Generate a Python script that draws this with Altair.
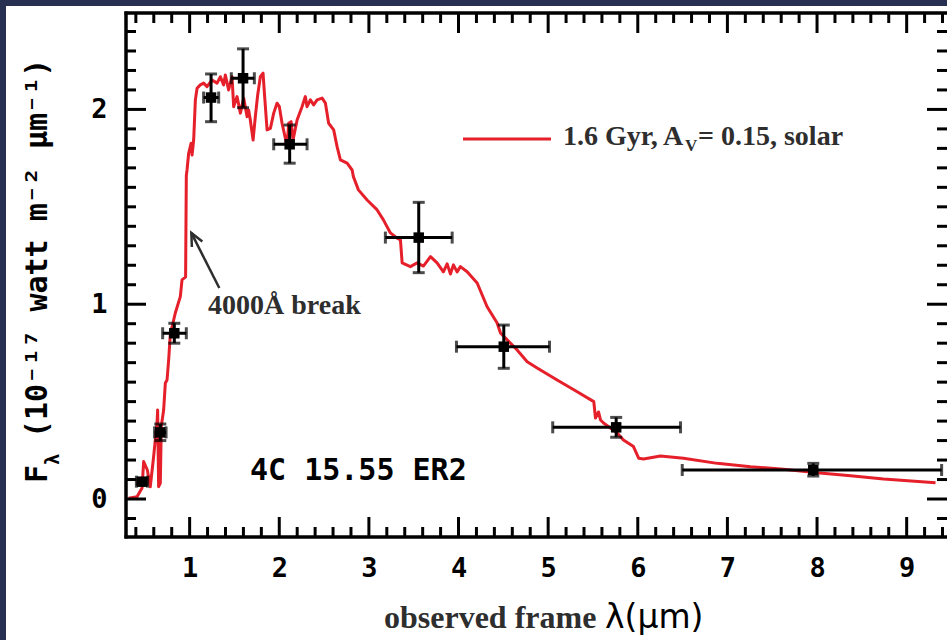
import altair as alt
import pandas as pd

# ---- model SED: 1.6 Gyr, A_V = 0.15, solar metallicity (observed frame) ----
model_wave = [
    0.319, 0.413, 0.469, 0.487, 0.528, 0.561, 0.598, 0.636, 0.643, 0.654,
    0.673, 0.684, 0.710, 0.729, 0.748, 0.766, 0.785, 0.804, 0.840, 0.896,
    0.915, 0.955, 0.963, 0.971, 0.989, 1.016, 1.027, 1.045, 1.064, 1.083,
    1.119, 1.156, 1.194, 1.250, 1.306, 1.343, 1.379, 1.398, 1.435, 1.473,
    1.491, 1.529, 1.566, 1.603, 1.641, 1.658, 1.677, 1.708, 1.733, 1.759,
    1.789, 1.819, 1.837, 1.864, 1.901, 1.938, 1.975, 2.001, 2.031, 2.068,
    2.087, 2.105, 2.132, 2.154, 2.199, 2.254, 2.291, 2.310, 2.347, 2.384,
    2.422, 2.478, 2.515, 2.551, 2.607, 2.645, 2.682, 2.757, 2.813, 2.827,
    2.883, 2.980, 3.092, 3.162, 3.240, 3.315, 3.352, 3.371, 3.463, 3.538,
    3.608, 3.687, 3.761, 3.831, 3.873, 3.910, 3.943, 3.984, 4.021, 4.096,
    4.208, 4.319, 4.431, 4.468, 4.654, 4.766, 4.877, 5.100, 5.324, 5.509,
    5.528, 5.562, 5.584, 5.618, 5.770, 5.840, 5.952, 6.011, 6.064, 6.253,
    6.510, 6.886, 7.258, 7.626, 8.002, 8.374, 8.742, 9.322,
]
model_flux = [
    0.004, 0.012, 0.056, 0.192, 0.149, 0.063, 0.217, 0.390, 0.457, 0.063,
    0.082, 0.375, 0.457, 0.596, 0.611, 0.714, 0.852, 0.883, 0.955, 1.039,
    1.125, 1.140, 1.660, 1.689, 1.775, 1.826, 1.766, 1.843, 2.049, 2.109,
    2.126, 2.135, 2.117, 2.151, 2.135, 2.168, 2.126, 2.177, 2.100, 2.168,
    2.014, 2.066, 1.981, 2.058, 1.963, 1.997, 1.946, 1.843, 1.963, 2.074,
    2.168, 2.186, 2.066, 1.895, 1.903, 1.981, 2.032, 2.014, 1.929, 1.852,
    1.809, 1.929, 1.937, 1.843, 1.946, 2.014, 2.066, 2.014, 2.049, 2.023,
    2.049, 2.058, 2.032, 1.929, 1.895, 1.809, 1.741, 1.724, 1.689, 1.655,
    1.587, 1.535, 1.484, 1.433, 1.366, 1.339, 1.330, 1.212, 1.193, 1.212,
    1.196, 1.244, 1.212, 1.166, 1.207, 1.155, 1.202, 1.166, 1.193, 1.167,
    1.109, 0.987, 0.904, 0.852, 0.765, 0.705, 0.673, 0.611, 0.551, 0.500,
    0.416, 0.447, 0.406, 0.390, 0.339, 0.303, 0.269, 0.209, 0.205, 0.221,
    0.209, 0.183, 0.166, 0.153, 0.135, 0.120, 0.103, 0.084,
]

# ---- photometry of 4C 15.55 ER2 (B R I J H K, IRAC 3.6 4.5 5.8 8.0) ----
phot_wave = [0.469, 0.673, 0.829, 1.239, 1.596, 2.116, 3.556, 4.505, 5.759, 7.958]
phot_flux = [0.089, 0.342, 0.851, 2.061, 2.160, 1.821, 1.342, 0.782, 0.368, 0.149]
phot_wave_lo = [0.406, 0.609, 0.699, 1.156, 1.465, 1.938, 3.184, 3.977, 5.051, 6.496]
phot_wave_hi = [0.531, 0.737, 0.963, 1.324, 1.722, 2.310, 3.929, 5.015, 6.477, 9.390]
phot_flux_lo = [0.075, 0.300, 0.800, 1.937, 2.009, 1.724, 1.162, 0.671, 0.317, 0.118]
phot_flux_hi = [0.103, 0.385, 0.902, 2.182, 2.311, 1.920, 1.523, 0.893, 0.419, 0.183]

# ---- axis ticks ----
x_major = [1, 2, 3, 4, 5, 6, 7, 8, 9]
x_minor = [round(0.2 * i, 1) for i in range(2, 48) if i % 5 != 0]
y_major = [0, 1, 2]
y_minor = [round(0.1 * i, 1) for i in range(-1, 25) if i % 10 != 0]

# ---- 4000 A break arrow (tail -> head, plus the two barbs) ----
arrow_tail = [1.331, 1.083]
arrow_head = [1.019, 1.366]
arrow_barb_a = [1.025, 1.294]
arrow_barb_b = [1.142, 1.322]

W, H = 821, 524
X_DOMAIN = [0.29, 9.45]
Y_DOMAIN = [-0.195, 2.495]
RED = "#e5202b"
INK = "#2e2e2e"
MONO = "DejaVu Sans Mono"
SERIF = "Liberation Serif"
NAVY = "#283052"

xs = alt.Scale(domain=X_DOMAIN, nice=False, zero=False)
ys = alt.Scale(domain=Y_DOMAIN, nice=False, zero=False)

x_axis = alt.Axis(values=x_major, ticks=False, domain=False, grid=False, title=None,
                  labelFont=MONO, labelFontSize=27, labelFontWeight="bold",
                  labelColor="black", labelPadding=18, labelFlush=False)
y_axis = alt.Axis(values=y_major, ticks=False, domain=False, grid=False, title=None,
                  labelFont=MONO, labelFontSize=27, labelFontWeight="bold",
                  labelColor="black", labelPadding=19, labelFlush=False)


def X(field):
    return alt.X(f"{field}:Q", scale=xs, axis=x_axis)


def Y(field):
    return alt.Y(f"{field}:Q", scale=ys, axis=y_axis)


model = pd.DataFrame({"wave": model_wave, "flux": model_flux})
phot = pd.DataFrame({
    "wave": phot_wave, "flux": phot_flux,
    "wlo": phot_wave_lo, "whi": phot_wave_hi,
    "flo": phot_flux_lo, "fhi": phot_flux_hi,
})
xmaj = pd.DataFrame({"t": x_major})
xmin = pd.DataFrame({"t": x_minor})
ymaj = pd.DataFrame({"t": y_major})
ymin = pd.DataFrame({"t": y_minor})
one = pd.DataFrame({"k": [0]})

layers = []

# slide border strips (top and left)
layers.append(alt.Chart(one).mark_rect(color=NAVY).encode(
    x=alt.value(-126), x2=alt.value(W), y=alt.value(-13), y2=alt.value(-7)))
layers.append(alt.Chart(one).mark_rect(color=NAVY).encode(
    x=alt.value(-126), x2=alt.value(-120), y=alt.value(-13), y2=alt.value(H + 103)))

# model spectrum
layers.append(alt.Chart(model).mark_line(color=RED, strokeWidth=3, strokeJoin="round")
              .encode(x=X("wave"), y=Y("flux"), order="wave:Q"))

# photometry error bars, caps and markers
layers.append(alt.Chart(phot).mark_rule(color="black", strokeWidth=3)
              .encode(x=X("wlo"), x2="whi:Q", y=Y("flux")))
layers.append(alt.Chart(phot).mark_rule(color="black", strokeWidth=3)
              .encode(x=X("wave"), y=Y("flo"), y2="fhi:Q"))
layers.append(alt.Chart(phot).mark_tick(color="black", orient="vertical", size=12, thickness=3)
              .encode(x=X("wlo"), y=Y("flux")))
layers.append(alt.Chart(phot).mark_tick(color="black", orient="vertical", size=12, thickness=3)
              .encode(x=X("whi"), y=Y("flux")))
layers.append(alt.Chart(phot).mark_tick(color="black", orient="horizontal", size=12, thickness=3)
              .encode(x=X("wave"), y=Y("flo")))
layers.append(alt.Chart(phot).mark_tick(color="black", orient="horizontal", size=12, thickness=3)
              .encode(x=X("wave"), y=Y("fhi")))
layers.append(alt.Chart(phot).mark_square(color="black", size=110, opacity=1)
              .encode(x=X("wave"), y=Y("flux")))

# 4000 A break arrow
shaft = pd.DataFrame({"x": [arrow_tail[0]], "y": [arrow_tail[1]],
                      "x2": [arrow_head[0]], "y2": [arrow_head[1]]})
layers.append(alt.Chart(shaft).mark_rule(color=INK, strokeWidth=2.5)
              .encode(x=X("x"), y=Y("y"), x2="x2:Q", y2="y2:Q"))
barbs = pd.DataFrame({"x": [arrow_barb_a[0], arrow_head[0], arrow_barb_b[0]],
                      "y": [arrow_barb_a[1], arrow_head[1], arrow_barb_b[1]],
                      "i": [0, 1, 2]})
layers.append(alt.Chart(barbs).mark_line(color=INK, strokeWidth=2.5, strokeJoin="miter")
              .encode(x=X("x"), y=Y("y"), order="i:Q"))

# frame (left, top, bottom)
layers.append(alt.Chart(one).mark_rule(color="black", strokeWidth=3.5)
              .encode(x=alt.value(0), y=alt.value(-1.5), y2=alt.value(H + 1.5)))
layers.append(alt.Chart(one).mark_rule(color="black", strokeWidth=3.5)
              .encode(x=alt.value(-1.5), x2=alt.value(W), y=alt.value(0)))
layers.append(alt.Chart(one).mark_rule(color="black", strokeWidth=3.5)
              .encode(x=alt.value(-1.5), x2=alt.value(W), y=alt.value(H)))

# inward ticks on all four sides
for df, ln in ((xmaj, 20), (xmin, 10)):
    layers.append(alt.Chart(df).mark_rule(color="black", strokeWidth=3)
                  .encode(x=X("t"), y=alt.value(H), y2=alt.value(H - ln)))
    layers.append(alt.Chart(df).mark_rule(color="black", strokeWidth=3)
                  .encode(x=X("t"), y=alt.value(0), y2=alt.value(ln)))
for df, ln in ((ymaj, 20), (ymin, 10)):
    layers.append(alt.Chart(df).mark_rule(color="black", strokeWidth=3)
                  .encode(y=Y("t"), x=alt.value(0), x2=alt.value(ln)))
    layers.append(alt.Chart(df).mark_rule(color="black", strokeWidth=3)
                  .encode(y=Y("t"), x=alt.value(W - ln), x2=alt.value(W)))


def label(text, x, y, font, size, weight="bold", color="black", angle=0,
          align="left", baseline="alphabetic", style="normal"):
    return alt.Chart(one).mark_text(
        text=text, font=font, fontSize=size, fontWeight=weight, color=color,
        angle=angle, align=align, baseline=baseline, fontStyle=style,
    ).encode(x=alt.value(x), y=alt.value(y))


# legend
layers.append(alt.Chart(one).mark_rule(color=RED, strokeWidth=3)
              .encode(x=alt.value(337), x2=alt.value(425), y=alt.value(126)))
layers.append(label("1.6 Gyr, A", 437, 132, SERIF, 28, color=INK))
layers.append(label("V", 559, 138, SERIF, 17, color=INK))
layers.append(label("= 0.15, solar", 572, 132, SERIF, 28, color=INK))

# annotations
layers.append(label("4000Å break", 82, 301, SERIF, 28, color=INK))
layers.append(label("4C 15.55 ER2", 124, 458, MONO, 30, baseline="middle"))

# axis titles
layers.append(label("observed frame", 258, 615, SERIF, 32, color=INK))
layers.append(label("λ(μm)", 479, 615, "DejaVu Sans", 33, weight="normal"))
layers.append(label("F", -88, 470, MONO, 30, angle=270, baseline="middle"))
layers.append(label("λ", -73, 452, MONO, 19, angle=270, baseline="middle"))
layers.append(label("(10⁻¹⁷ watt m⁻² μm⁻¹)", -88, 425, MONO, 30, angle=270,
                    baseline="middle"))

chart = alt.layer(*layers).properties(
    width=W, height=H,
    autosize=alt.AutoSizeParams(type="none"),
    padding={"left": 126, "top": 13, "right": 0, "bottom": 103},
    background="white",
).configure_view(stroke=None)

chart.save("out.html", embed_options={"renderer": "svg", "actions": False})
